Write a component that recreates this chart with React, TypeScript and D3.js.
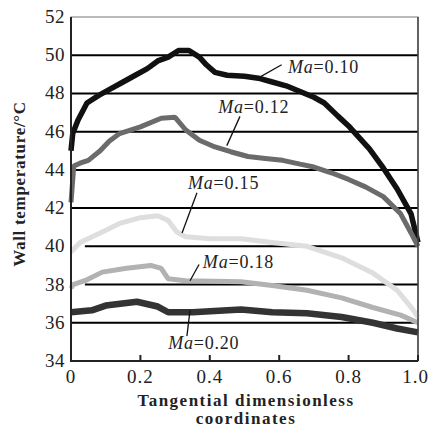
import React, { useEffect, useRef } from 'react';
import * as d3 from 'd3';

// [tangential coordinate, wall temperature]
const ma010: [number, number][] = [
  [0, 45.0], [0.005, 45.9], [0.02, 46.6], [0.046, 47.5], [0.08, 47.9], [0.11, 48.2],
  [0.15, 48.6], [0.18, 48.9], [0.22, 49.3], [0.25, 49.7], [0.28, 49.9], [0.31, 50.25],
  [0.34, 50.25], [0.37, 49.9], [0.39, 49.5], [0.415, 49.1], [0.45, 48.95], [0.5, 48.9],
  [0.54, 48.8], [0.58, 48.6], [0.62, 48.4], [0.66, 48.1], [0.7, 47.8], [0.73, 47.5],
  [0.77, 46.8], [0.8, 46.3], [0.82, 45.9], [0.86, 45.1], [0.9, 44.1], [0.94, 43.0],
  [0.98, 41.7], [1.0, 40.2],
];
const ma012: [number, number][] = [
  [0, 42.3], [0.008, 44.2], [0.026, 44.35], [0.05, 44.5], [0.084, 45.0], [0.11, 45.5],
  [0.14, 45.9], [0.2, 46.25], [0.26, 46.7], [0.3, 46.75], [0.33, 46.1], [0.37, 45.55],
  [0.415, 45.2], [0.46, 44.95], [0.51, 44.7], [0.56, 44.6], [0.61, 44.5], [0.66, 44.3],
  [0.7, 44.15], [0.75, 43.85], [0.8, 43.5], [0.85, 43.1], [0.9, 42.6], [0.95, 41.7],
  [0.98, 40.7], [1.0, 40.0],
];
const ma015: [number, number][] = [
  [0, 39.7], [0.026, 40.2], [0.084, 40.7], [0.14, 41.2], [0.2, 41.5], [0.25, 41.6],
  [0.28, 41.35], [0.305, 40.75], [0.33, 40.5], [0.4, 40.4], [0.49, 40.4], [0.58, 40.2],
  [0.68, 40.0], [0.78, 39.4], [0.87, 38.6], [0.94, 37.7], [0.985, 36.7], [1.0, 36.3],
];
const ma018: [number, number][] = [
  [0, 37.8], [0.006, 38.0], [0.046, 38.25], [0.09, 38.65], [0.16, 38.85], [0.23, 39.0],
  [0.26, 38.85], [0.28, 38.3], [0.33, 38.2], [0.49, 38.15], [0.58, 37.95], [0.68, 37.7],
  [0.78, 37.3], [0.87, 36.8], [0.95, 36.4], [1.0, 36.0],
];
const ma020: [number, number][] = [
  [0, 36.55], [0.06, 36.65], [0.1, 36.9], [0.19, 37.1], [0.25, 36.85], [0.28, 36.55],
  [0.35, 36.55], [0.49, 36.7], [0.58, 36.55], [0.68, 36.5], [0.78, 36.3], [0.87, 36.0],
  [0.94, 35.7], [1.0, 35.5],
];

const seriesData = [ma010, ma012, ma015, ma018, ma020];
const seriesColors = ['#111111', '#6b6b6b', '#dedede', '#b2b2b2', '#333333'];
const seriesNames = ['0.10', '0.12', '0.15', '0.18', '0.20'];
// label anchor (text start, baseline) and leader line [from, to] in data coords
const labelPos: [number, number][] = [[0.625, 49.05], [0.424, 47.0], [0.337, 43.0], [0.38, 38.85], [0.28, 34.65]];
const leaders: [number, number, number, number][] = [
  [0.539, 48.8, 0.607, 49.5],
  [0.449, 45.27, 0.487, 46.8],
  [0.32, 40.7, 0.363, 42.8],
  [0.343, 38.2, 0.369, 39.05],
  [0.343, 36.65, 0.334, 35.3],
];

const yGrid = [36, 38, 40, 42, 44, 46, 48, 50];
const yTicks = [34, 36, 38, 40, 42, 44, 46, 48, 50, 52];
const xTicks = [0, 0.2, 0.4, 0.6, 0.8, 1.0];

export default function App() {
  const svgRef = useRef<SVGSVGElement>(null);

  useEffect(() => {
    if (!svgRef.current) return;
    const svg = d3.select(svgRef.current);
    svg.selectAll('*').remove();

    const x = d3.scaleLinear().domain([0, 1]).range([71, 418]);
    const y = d3.scaleLinear().domain([34, 52]).range([361, 17]);
    const font = 'Liberation Serif';

    // frame
    svg.append('rect')
      .attr('x', x(0)).attr('y', y(52))
      .attr('width', x(1) - x(0)).attr('height', y(34) - y(52))
      .attr('fill', 'none').attr('stroke', '#777').attr('stroke-width', 1);

    // horizontal grid
    svg.append('g').selectAll('line')
      .data(yGrid)
      .enter()
      .append('line')
      .attr('x1', d => (d === 38 || d === 40 ? x(0.04) : x(0)))
      .attr('x2', x(1))
      .attr('y1', d => y(d)).attr('y2', d => y(d))
      .attr('stroke', '#000').attr('stroke-width', 2);

    // curves
    const line = d3.line<[number, number]>()
      .x(d => x(d[0]))
      .y(d => y(d[1]));

    svg.append('g').selectAll('path')
      .data(seriesData)
      .enter()
      .append('path')
      .attr('d', d => line(d))
      .attr('fill', 'none')
      .attr('stroke', (_, i) => seriesColors[i])
      .attr('stroke-width', (_, i) => (i === 4 ? 6.5 : i === 0 ? 5.5 : 5))
      .attr('stroke-linejoin', 'bevel');

    // axes
    svg.append('line')
      .attr('x1', x(0)).attr('x2', x(0)).attr('y1', y(52)).attr('y2', y(34))
      .attr('stroke', '#222').attr('stroke-width', 2);
    svg.append('line')
      .attr('x1', x(0) - 1).attr('x2', x(1)).attr('y1', y(34)).attr('y2', y(34))
      .attr('stroke', '#222').attr('stroke-width', 2);
    svg.append('line')
      .attr('x1', x(1)).attr('x2', x(1)).attr('y1', y(52)).attr('y2', y(34))
      .attr('stroke', '#444').attr('stroke-width', 1.5);

    svg.append('g').selectAll('line')
      .data(xTicks.slice(1))
      .enter()
      .append('line')
      .attr('x1', d => x(d)).attr('x2', d => x(d))
      .attr('y1', y(34)).attr('y2', y(34) - 6)
      .attr('stroke', '#222').attr('stroke-width', 2);

    svg.append('g').selectAll('text')
      .data(yTicks)
      .enter()
      .append('text')
      .attr('x', 65)
      .attr('y', d => y(d) + 6)
      .attr('text-anchor', 'end')
      .attr('font-family', font)
      .attr('font-size', 19)
      .attr('letter-spacing', 0.5)
      .attr('fill', '#222')
      .text(d => d);

    svg.append('g').selectAll('text')
      .data(xTicks)
      .enter()
      .append('text')
      .attr('x', d => (d === 1 ? 429 : x(d)))
      .attr('y', 383)
      .attr('text-anchor', d => (d === 1 ? 'end' : 'middle'))
      .attr('font-family', font)
      .attr('font-size', 19)
      .attr('letter-spacing', 1)
      .attr('fill', '#222')
      .text(d => (d === 0 ? '0' : d.toFixed(1)));

    // axis titles
    const titleStyle = (t: d3.Selection<SVGTextElement, unknown, null, undefined>) =>
      t.attr('font-family', font).attr('font-size', 17).attr('font-weight', 'bold')
        .attr('fill', '#222');

    svg.append('text')
      .attr('x', 246).attr('y', 406)
      .attr('text-anchor', 'middle')
      .call(titleStyle)
      .attr('letter-spacing', 1.5)
      .text('Tangential dimensionless');
    svg.append('text')
      .attr('x', 246).attr('y', 424)
      .attr('text-anchor', 'middle')
      .call(titleStyle)
      .attr('letter-spacing', 1.5)
      .text('coordinates');
    svg.append('text')
      .attr('transform', 'translate(25,184) rotate(-90)')
      .attr('text-anchor', 'middle')
      .call(titleStyle)
      .attr('letter-spacing', 0.7)
      .text('Wall temperature/°C');

    // annotations
    svg.append('g').selectAll('line')
      .data(leaders)
      .enter()
      .append('line')
      .attr('x1', d => x(d[0])).attr('y1', d => y(d[1]))
      .attr('x2', d => x(d[2])).attr('y2', d => y(d[3]))
      .attr('stroke', '#111').attr('stroke-width', 1.3);

    const labels = svg.append('g').selectAll('text')
      .data(seriesNames)
      .enter()
      .append('text')
      .attr('x', (_, i) => x(labelPos[i][0]))
      .attr('y', (_, i) => y(labelPos[i][1]))
      .attr('font-family', font)
      .attr('font-size', 18)
      .attr('letter-spacing', 0.8)
      .attr('fill', '#222');
    labels.append('tspan').attr('font-style', 'italic').text('Ma');
    labels.append('tspan').text(d => '=' + d);
  }, []);

  return (
    <svg
      ref={svgRef}
      width={430}
      height={429}
      style={{ position: 'absolute', left: 0, top: 0, background: '#fff' }}
    />
  );
}
